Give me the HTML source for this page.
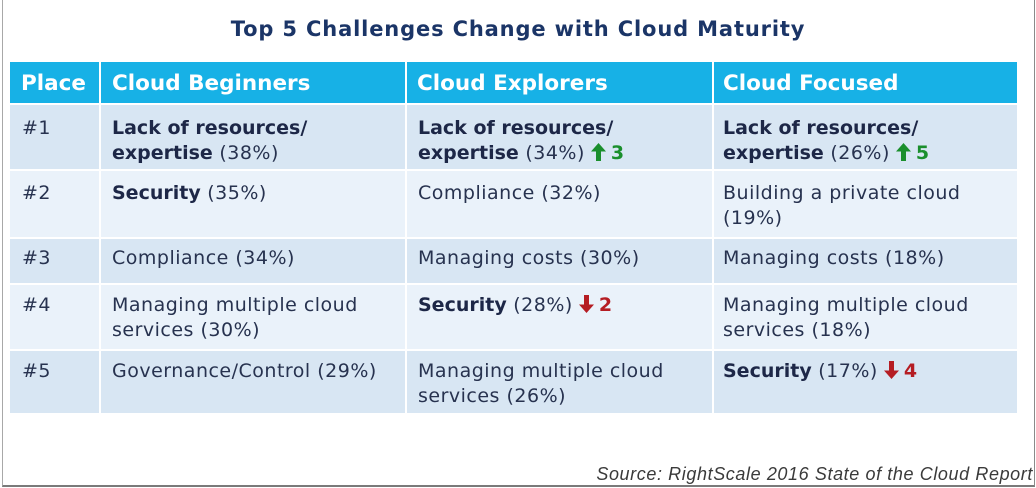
<!DOCTYPE html>
<html><head><meta charset="utf-8"><style>
html,body{margin:0;padding:0;background:#fff;}
#c{position:relative;width:1036px;height:488px;overflow:hidden;background:#fff;font-family:"DejaVu Sans","Liberation Sans",sans-serif;}
.frame{position:absolute;left:2px;top:-2px;width:1031px;height:487px;border-left:1px solid #a8a8a8;border-right:1px solid #8a8a8a;border-bottom:2px solid #7a7a7a;box-sizing:content-box;}
.title{position:absolute;left:0;width:1036px;top:15px;text-align:center;font-weight:bold;font-size:21px;color:#1b3567;letter-spacing:0.85px;line-height:28px;}
.bg{position:absolute;}
.hd{background:#17b1e6;}
.dk{background:#d8e6f3;}
.lt{background:#eaf2fa;}
.ht{position:absolute;top:70px;font-weight:bold;font-size:21.5px;color:#fff;line-height:28px;white-space:nowrap;}
.t{position:absolute;font-size:19px;line-height:25px;color:#27324f;letter-spacing:0.5px;white-space:nowrap;}
.t b{color:#1d2747;letter-spacing:0;}
.g{color:#1a8f2c;font-weight:bold;letter-spacing:0;}
.r{color:#b51d23;font-weight:bold;letter-spacing:0;}
svg.a{display:inline-block;vertical-align:-2px;margin:0 5px 0 6px;}
.src{position:absolute;right:3px;top:463px;font-family:"Liberation Sans",sans-serif;font-style:italic;font-size:18px;color:#3a3a3a;white-space:nowrap;line-height:22px;letter-spacing:0.6px;}
</style></head><body><div id="c">
<div class="frame"></div>
<div class="title">Top 5 Challenges Change with Cloud Maturity</div>

<!-- header -->
<div class="bg hd" style="left:10px;top:62px;width:89px;height:41px;"></div>
<div class="bg hd" style="left:101px;top:62px;width:304px;height:41px;"></div>
<div class="bg hd" style="left:407px;top:62px;width:305px;height:41px;"></div>
<div class="bg hd" style="left:714px;top:62px;width:303px;height:41px;"></div>

<!-- rows -->
<div class="bg dk" style="left:10px;top:105px;width:89px;height:64px;"></div>
<div class="bg dk" style="left:101px;top:105px;width:304px;height:64px;"></div>
<div class="bg dk" style="left:407px;top:105px;width:305px;height:64px;"></div>
<div class="bg dk" style="left:714px;top:105px;width:303px;height:64px;"></div>

<div class="bg lt" style="left:10px;top:171px;width:89px;height:66px;"></div>
<div class="bg lt" style="left:101px;top:171px;width:304px;height:66px;"></div>
<div class="bg lt" style="left:407px;top:171px;width:305px;height:66px;"></div>
<div class="bg lt" style="left:714px;top:171px;width:303px;height:66px;"></div>

<div class="bg dk" style="left:10px;top:239px;width:89px;height:44px;"></div>
<div class="bg dk" style="left:101px;top:239px;width:304px;height:44px;"></div>
<div class="bg dk" style="left:407px;top:239px;width:305px;height:44px;"></div>
<div class="bg dk" style="left:714px;top:239px;width:303px;height:44px;"></div>

<div class="bg lt" style="left:10px;top:285px;width:89px;height:64px;"></div>
<div class="bg lt" style="left:101px;top:285px;width:304px;height:64px;"></div>
<div class="bg lt" style="left:407px;top:285px;width:305px;height:64px;"></div>
<div class="bg lt" style="left:714px;top:285px;width:303px;height:64px;"></div>

<div class="bg dk" style="left:10px;top:351px;width:89px;height:62px;"></div>
<div class="bg dk" style="left:101px;top:351px;width:304px;height:62px;"></div>
<div class="bg dk" style="left:407px;top:351px;width:305px;height:62px;"></div>
<div class="bg dk" style="left:714px;top:351px;width:303px;height:62px;"></div>

<!-- header text -->
<div class="ht" style="left:21px;">Place</div>
<div class="ht" style="left:112px;">Cloud Beginners</div>
<div class="ht" style="left:417px;">Cloud Explorers</div>
<div class="ht" style="left:723px;">Cloud Focused</div>

<!-- row 1 -->
<div class="t" style="left:22px;top:116px;">#1</div>
<div class="t" style="left:112px;top:116px;"><b>Lack of resources/<br>expertise</b> (38%)</div>
<div class="t" style="left:418px;top:116px;"><b>Lack of resources/<br>expertise</b> (34%)<svg class="a" width="15" height="18" viewBox="0 0 15 18"><path d="M7.5 0 L15 8.5 L10 8.5 L10 18 L5 18 L5 8.5 L0 8.5 Z" fill="#1a8f2c"/></svg><span class="g">3</span></div>
<div class="t" style="left:723px;top:116px;"><b>Lack of resources/<br>expertise</b> (26%)<svg class="a" width="15" height="18" viewBox="0 0 15 18"><path d="M7.5 0 L15 8.5 L10 8.5 L10 18 L5 18 L5 8.5 L0 8.5 Z" fill="#1a8f2c"/></svg><span class="g">5</span></div>

<!-- row 2 -->
<div class="t" style="left:22px;top:181px;">#2</div>
<div class="t" style="left:112px;top:181px;"><b>Security</b> (35%)</div>
<div class="t" style="left:418px;top:181px;">Compliance (32%)</div>
<div class="t" style="left:723px;top:181px;">Building a private cloud<br>(19%)</div>

<!-- row 3 -->
<div class="t" style="left:22px;top:246px;">#3</div>
<div class="t" style="left:112px;top:246px;">Compliance (34%)</div>
<div class="t" style="left:418px;top:246px;">Managing costs (30%)</div>
<div class="t" style="left:723px;top:246px;">Managing costs (18%)</div>

<!-- row 4 -->
<div class="t" style="left:22px;top:293px;">#4</div>
<div class="t" style="left:112px;top:293px;">Managing multiple cloud<br>services (30%)</div>
<div class="t" style="left:418px;top:293px;"><b>Security</b> (28%)<svg class="a" width="15" height="18" viewBox="0 0 15 18"><path d="M7.5 18 L15 9.5 L10 9.5 L10 0 L5 0 L5 9.5 L0 9.5 Z" fill="#b51d23"/></svg><span class="r">2</span></div>
<div class="t" style="left:723px;top:293px;">Managing multiple cloud<br>services (18%)</div>

<!-- row 5 -->
<div class="t" style="left:22px;top:359px;">#5</div>
<div class="t" style="left:112px;top:359px;">Governance/Control (29%)</div>
<div class="t" style="left:418px;top:359px;">Managing multiple cloud<br>services (26%)</div>
<div class="t" style="left:723px;top:359px;"><b>Security</b> (17%)<svg class="a" width="15" height="18" viewBox="0 0 15 18"><path d="M7.5 18 L15 9.5 L10 9.5 L10 0 L5 0 L5 9.5 L0 9.5 Z" fill="#b51d23"/></svg><span class="r">4</span></div>

<div class="src">Source: RightScale 2016 State of the Cloud Report</div>
</div></body></html>
